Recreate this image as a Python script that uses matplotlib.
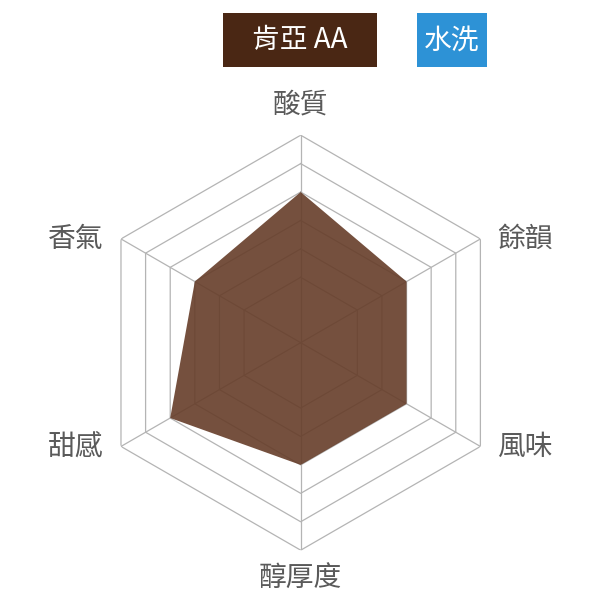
import matplotlib.pyplot as plt
import numpy as np
from matplotlib.patches import Rectangle

plt.rcParams['font.family'] = ['Noto Sans CJK TC', 'DejaVu Sans']

# dados do gráfico
categories = ['酸質', '餘韻', '風味', '醇厚度', '甜感', '香氣']
values = [8, 7, 7, 7, 8, 7]
levels = [5, 6, 7, 8, 9, 10]
r_min = 2.7
title_name = '肯亞 AA'
title_process = '水洗'

n = len(categories)
angles = np.arange(n) * 2 * np.pi / n
angles_closed = np.append(angles, angles[0])

fig = plt.figure(figsize=(6, 6), dpi=100)
ax = fig.add_axes([0.1553, 0.083, 0.6917, 0.6917], projection='polar')
ax.set_theta_offset(np.pi / 2)
ax.set_theta_direction(-1)
ax.set_ylim(r_min, levels[-1])
ax.grid(False)
ax.spines['polar'].set_visible(False)
ax.set_xticks([])
ax.set_yticks([])

# grade hexagonal
for lv in levels:
    ax.plot(angles_closed, [lv] * (n + 1), color='#b4b4b4', lw=0.9, zorder=1)
for a in angles:
    ax.plot([a, a], [r_min, levels[-1]], color='#b4b4b4', lw=0.9, zorder=1)

# área dos dados
vals_closed = np.append(values, values[0])
ax.fill(angles_closed, vals_closed, color=(102/255, 61/255, 41/255), alpha=0.9,
        lw=0, zorder=2)

# rótulos dos eixos
for a, lab in zip(angles, categories):
    s = np.sin(a)
    c = np.cos(a)
    if abs(s) < 0.01:
        ha = 'center'
        va = 'bottom' if c > 0 else 'top'
        off = (0, 11) if c > 0 else (0, -9)
    else:
        ha = 'left' if s > 0 else 'right'
        va = 'center'
        off = (12, 0) if s > 0 else (-13, 0)
    ax.annotate(lab, xy=(a, levels[-1]), xytext=off, textcoords='offset points',
                ha=ha, va=va, fontsize=20, color='#5a5a5a', fontweight='light',
                annotation_clip=False)

# cabeçalho
fig.patches.append(Rectangle((0.372, 0.888), 0.2556, 0.09, transform=fig.transFigure,
                             facecolor='#4a2714', edgecolor='none'))
fig.text(0.372 + 0.2556 / 2, 0.933, title_name, ha='center', va='center',
         fontsize=20, color='white', fontweight='light')
fig.patches.append(Rectangle((0.695, 0.888), 0.1167, 0.09, transform=fig.transFigure,
                             facecolor='#2d92d6', edgecolor='none'))
fig.text(0.695 + 0.1167 / 2, 0.933, title_process, ha='center', va='center',
         fontsize=20, color='white', fontweight='light')

fig.savefig('out.png', dpi=100)
